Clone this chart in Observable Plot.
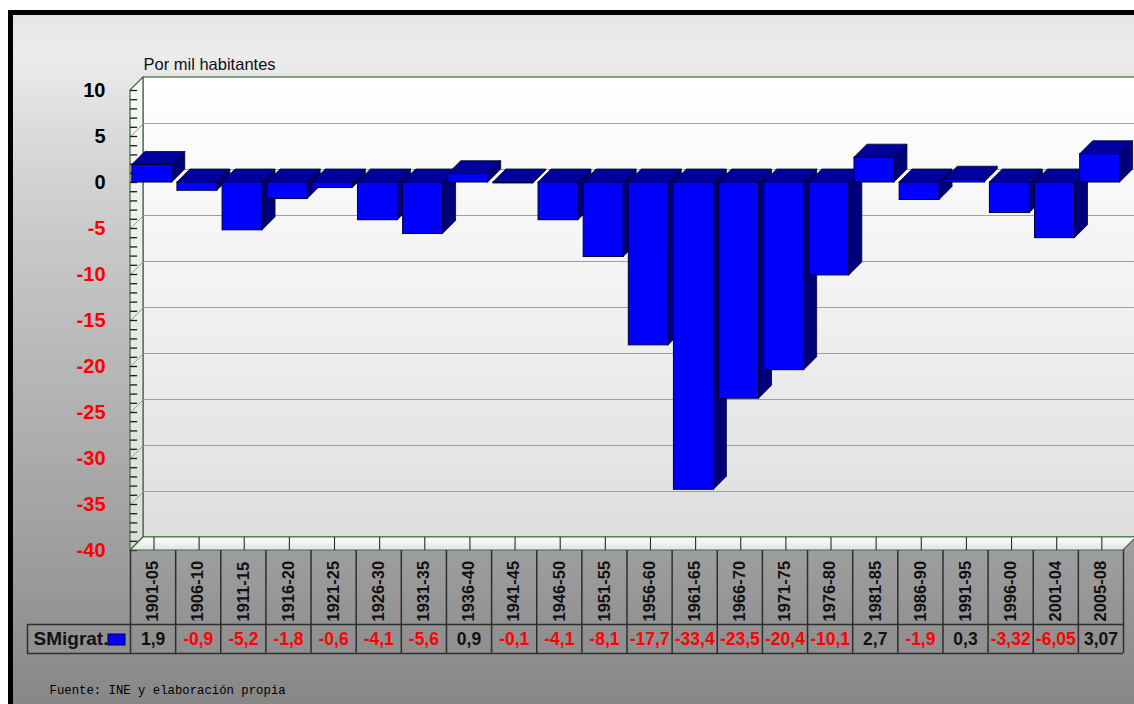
<!DOCTYPE html>
<html><head><meta charset="utf-8">
<script src="https://cdn.jsdelivr.net/npm/d3@7"></script>
<script src="https://cdn.jsdelivr.net/npm/@observablehq/plot@0.6"></script>
<style>
html,body{margin:0;padding:0;background:#fff;}
#wrap{position:relative;width:1134px;height:704px;overflow:hidden;}
#bg{position:absolute;left:8px;top:10px;right:0;bottom:0;border-left:5px solid #000;border-top:5px solid #000;
background:linear-gradient(#e5e5e5 0%,#ececec 6%,#dcdcdc 16%,#c9c9c9 32%,#b6b6b6 52%,#a2a2a2 74%,#8f8f8f 92%,#878787 100%);}
#chart{position:absolute;left:0;top:0;}
</style></head><body>
<div id="wrap"><div id="bg"></div><div id="chart"></div></div>
<script>
// ---- data ----
const categories = ["1901-05","1906-10","1911-15","1916-20","1921-25","1926-30","1931-35","1936-40","1941-45","1946-50","1951-55","1956-60","1961-65","1966-70","1971-75","1976-80","1981-85","1986-90","1991-95","1996-00","2001-04","2005-08"];
const values = [1.9,-0.9,-5.2,-1.8,-0.6,-4.1,-5.6,0.9,-0.1,-4.1,-8.1,-17.7,-33.4,-23.5,-20.4,-10.1,2.7,-1.9,0.3,-3.32,-6.05,3.07];
const yTicks = [10,5,0,-5,-10,-15,-20,-25,-30,-35,-40];
const seriesName = "SMigrat.";
const yTitle = "Por mil habitantes";
const source = "Fuente: INE y elaboración propia";

// ---- layout ----
const W = 1134, H = 704, ML = 130, MR = 11, MT = 90, MB = 154;
const Y_DOMAIN = [-40, 10];
const N = categories.length;
const pxX = (W - ML - MR) / N, pxY = (H - MT - MB) / (Y_DOMAIN[1] - Y_DOMAIN[0]);
const DEPTH = 13;
const DX = DEPTH / pxX, DY = DEPTH / pxY;
const xOf = px => (px - ML) / pxX;
const yOf = px => Y_DOMAIN[0] + (H - MB - px) / pxY;
const BAR_L = 0.04, BAR_R = 0.925;
const GREEN = "#3d6b3d", RED = "#ff0000", BLUE = "#0000ff", EDGE = "#000030";
const fmt = v => String(v).replace(".", ",");

const yMin = Y_DOMAIN[0], yMax = Y_DOMAIN[1];
const bars = values.map((v, i) => ({i, v, lo: Math.min(v, 0), hi: Math.max(v, 0), x1: i + BAR_L, x2: i + BAR_R}));
const topPts = bars.flatMap(b => [
  {bar: b.i, y: b.hi, xa: b.x1, xb: b.x2},
  {bar: b.i, y: b.hi + DY, xa: b.x1 + DX, xb: b.x2 + DX}]);
const sidePts = bars.flatMap(b => [
  {bar: b.i, x: b.x2, ya: b.lo, yb: b.hi},
  {bar: b.i, x: b.x2 + DX, ya: b.lo + DY, yb: b.hi + DY}]);
const leftWall = [{x: 0, y1: yMin, y2: yMax}, {x: DX, y1: yMin + DY, y2: yMax + DY}];
const floor = [{y: yMin, x1: 0, x2: N}, {y: yMin + DY, x1: DX, x2: N + DX}];
const gridVals = yTicks.filter(d => d > yMin && d < yMax);
const minorTicks = d3.range(yMin, yMax + 1);

const chart = Plot.plot({
  width: W, height: H,
  marginLeft: ML, marginRight: MR, marginTop: MT, marginBottom: MB,
  x: {type: "linear", domain: [0, N], axis: null},
  y: {domain: Y_DOMAIN, axis: null},
  style: {background: "transparent", fontFamily: "'Liberation Sans', Arial, sans-serif", overflow: "visible"},
  marks: [
    // back wall
    Plot.rect([0], {x1: () => DX, x2: () => N + DX + 1, y1: () => yMin + DY, y2: () => yMax + DY, fill: "url(#wallG)", stroke: GREEN, strokeWidth: 1.2}),
    Plot.ruleY(gridVals, {y: d => d + DY, x1: () => DX, x2: () => N + DX + 1, stroke: "#a0a0a0", strokeWidth: 1.2}),
    // left wall
    Plot.areaY(leftWall, {x: "x", y1: "y1", y2: "y2", fill: "url(#sideG)", stroke: GREEN, strokeWidth: 1.2}),
    Plot.link(gridVals, {x1: () => 0, y1: d => d, x2: () => DX, y2: d => d + DY, stroke: "#9a9a9a", strokeWidth: 1}),
    Plot.ruleY(minorTicks, {y: d => d, x1: () => 0, x2: () => DX * 0.55, stroke: "#1a1a1a", strokeWidth: 1.3}),
    // floor
    Plot.areaX(floor, {y: "y", x1: "x1", x2: "x2", fill: "url(#floorG)", stroke: GREEN, strokeWidth: 1.2}),
    Plot.ruleX(categories, {x: (d, i) => i + 0.52, y1: () => yMin, y2: () => yMin + DY, stroke: "#2a2a2a", strokeWidth: 1.1}),
    // bars
    Plot.areaY(sidePts, {x: "x", y1: "ya", y2: "yb", z: "bar", fill: "#000078", stroke: EDGE, strokeWidth: 0.8}),
    Plot.areaX(topPts, {y: "y", x1: "xa", x2: "xb", z: "bar", fill: "#00009e", stroke: EDGE, strokeWidth: 0.8}),
    Plot.rect(bars, {x1: "x1", x2: "x2", y1: "lo", y2: "hi", fill: BLUE, stroke: EDGE, strokeWidth: 1}),
    // y axis labels
    Plot.text(yTicks, {frameAnchor: "left", y: d => d, dx: -25, textAnchor: "end", text: d => String(d),
      fill: d => d < 0 ? RED : "#000", fontSize: 20, fontWeight: "bold"}),
    // title & source
    Plot.text([yTitle], {frameAnchor: "top-left", dx: 13, dy: -32, textAnchor: "start", fontSize: 16.5, fill: "#111"}),
    Plot.text([source], {frameAnchor: "bottom-left", dx: -81, dy: 143, textAnchor: "start", fontSize: 12.3, fill: "#000", fontFamily: "'Liberation Mono', monospace"}),
    // data table
    Plot.ruleX(d3.range(N + 1), {x: d => d, y1: () => yMin, y2: () => yOf(653), stroke: "#2e2e2e", strokeWidth: 1.5}),
    Plot.ruleY([yOf(624), yOf(653)], {y: d => d, x1: () => xOf(27), x2: () => N, stroke: "#2e2e2e", strokeWidth: 1.5}),
    Plot.ruleX([xOf(27)], {x: d => d, y1: () => yOf(624), y2: () => yOf(653), stroke: "#2e2e2e", strokeWidth: 1.5}),
    Plot.text(categories, {x: (d, i) => i + 0.5, y: () => yOf(621), text: d => d, rotate: -90, textAnchor: "start",
      fontSize: 16.5, fontWeight: "bold", fill: "#111"}),
    Plot.text(values, {x: (d, i) => i + 0.5, y: () => yOf(638.5), text: d => fmt(d), fill: d => d < 0 ? RED : "#111",
      fontSize: 17.5, fontWeight: "bold"}),
    Plot.text([seriesName], {x: () => xOf(33), y: () => yOf(638.5), textAnchor: "start", fontSize: 19, fontWeight: "bold", fill: "#111"}),
    Plot.rect([seriesName], {x1: () => xOf(108), x2: () => xOf(125), y1: () => yOf(645), y2: () => yOf(634), fill: BLUE, stroke: "#000040", strokeWidth: 1})
  ]
});

const defs = d3.select(chart).insert("defs", ":first-child");
function grad(id, stops) {
  const g = defs.append("linearGradient").attr("id", id).attr("x1", 0).attr("y1", 0).attr("x2", 0).attr("y2", 1);
  stops.forEach(([o, c]) => g.append("stop").attr("offset", o).attr("stop-color", c));
}
grad("wallG", [[0, "#ffffff"], [0.5, "#f1f1f1"], [1, "#dedede"]]);
grad("sideG", [[0, "#f8f8f8"], [1, "#dcdcdc"]]);
grad("floorG", [[0, "#ffffff"], [1, "#e2e2e2"]]);

document.getElementById("chart").appendChild(chart);
</script>
</body></html>
